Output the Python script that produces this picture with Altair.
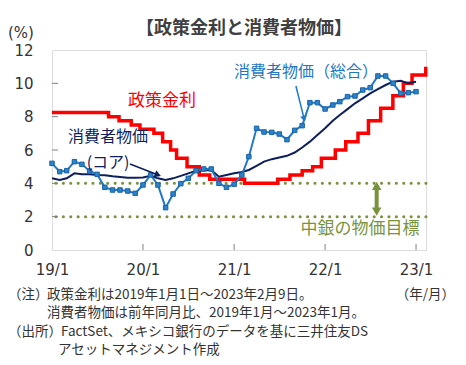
import altair as alt
import pandas as pd

# ---------------- data ----------------
months = pd.date_range("2019-01-01", "2023-01-01", freq="MS").strftime("%Y-%m-%d").tolist()

headline = [5.2, 4.7, 4.76, 5.3, 5.14, 4.74, 4.54, 3.76, 3.6, 3.6, 3.54, 3.4,
            3.9, 4.5, 3.9, 2.54, 3.36, 3.98, 4.3, 4.76, 4.86, 4.86, 4.0, 3.76,
            3.95, 4.5, 5.6, 7.3, 7.08, 7.06, 6.96, 6.62, 7.18, 7.46, 8.84, 8.84,
            8.46, 8.7, 8.9, 9.2, 9.24, 9.6, 9.74, 10.44, 10.44, 10.0, 9.4, 9.44, 9.5]

core = [4.3, 4.2, 4.3, 4.6, 4.55, 4.54, 4.5, 4.48, 4.42, 4.38, 4.33, 4.33,
        4.35, 4.45, 4.3, 4.2, 4.3, 4.45, 4.6, 4.76, 4.78, 4.8, 4.4, 4.5,
        4.6, 4.68, 4.8, 5.05, 5.3, 5.45, 5.55, 5.65, 5.85, 6.15, 6.5, 6.9,
        7.3, 7.75, 8.1, 8.45, 8.8, 9.1, 9.4, 9.65, 9.9, 10.1, 10.15, 10.0, 10.1]

policy_dates = ["2019-01-01", "2019-08-16", "2019-09-27", "2019-11-15", "2019-12-20",
                "2020-02-14", "2020-03-20", "2020-04-21", "2020-05-15", "2020-06-26",
                "2020-08-14", "2020-09-25", "2021-02-12", "2021-06-25", "2021-08-13",
                "2021-10-01", "2021-11-12", "2021-12-17", "2022-02-11", "2022-03-25",
                "2022-05-13", "2022-06-24", "2022-08-12", "2022-09-30", "2022-11-11",
                "2022-12-16", "2023-02-09"]
policy_rates = [8.25, 8.0, 7.75, 7.5, 7.25, 7.0, 6.5, 6.0, 5.5, 5.0, 4.5, 4.25, 4.0,
                4.25, 4.5, 4.75, 5.0, 5.5, 6.0, 6.5, 7.0, 7.75, 8.5, 9.25, 10.0, 10.5, 11.0]

target_band = [2, 4]
y_ticks = [0, 2, 4, 6, 8, 10, 12]
inner_y_ticks = [2, 4, 6, 8, 10]
x_tick_years = [2019, 2020, 2021, 2022, 2023]
inner_x_ticks = ["2020-01-01", "2021-01-01", "2022-01-01", "2023-01-01"]

title_text = "【政策金利と消費者物価】"
note_heads = ["（注）", "（出所）"]
notes = [
    "政策金利は2019年1月1日～2023年2月9日。",
    "消費者物価は前年同月比、2019年1月～2023年1月。",
    "FactSet、メキシコ銀行のデータを基に三井住友DS",
    "アセットマネジメント作成",
]

# ---------------- styling ----------------
JP = "Noto Sans CJK JP"
RED = "#ff0000"
BLUE = "#2378c3"
NAVY = "#0d1f5c"
GREEN = "#77933c"
TXT = "#333333"

df_cpi = pd.DataFrame({"date": months, "headline": headline, "core": core})
df_pol = pd.DataFrame({"date": policy_dates, "rate": policy_rates})

x_scale = alt.Scale(type="utc", domain=[alt.DateTime(year=2019, month=1, date=1, utc=True),
                                        alt.DateTime(year=2023, month=2, date=10, utc=True)])
y_scale = alt.Scale(domain=[0, 12], nice=False, zero=True)

x_axis = alt.Axis(values=[alt.DateTime(year=y, month=1, date=1, utc=True) for y in x_tick_years],
                  labelExpr="utcFormat(datum.value, '%y/%-m')", title=None, grid=False, ticks=False,
                  domain=False, labelFont="DejaVu Sans", labelFontSize=15, labelColor=TXT,
                  labelPadding=12, labelFlush=False, labelOverlap=False)
y_axis = alt.Axis(values=y_ticks, title=None, grid=False, ticks=False, domain=False,
                  labelFont="DejaVu Sans", labelFontSize=15, labelColor=TXT, labelPadding=19)


def X(field="date"):
    return alt.X(f"{field}:T", scale=x_scale, axis=x_axis, title=None)


def Y(field):
    return alt.Y(f"{field}:Q", scale=y_scale, axis=y_axis, title=None)


band = alt.Chart(pd.DataFrame({"v": target_band})).mark_rule(
    color=GREEN, strokeWidth=3, strokeDash=[0.1, 7.3], strokeCap="round"
).encode(y=Y("v"))

policy = alt.Chart(df_pol).mark_line(color=RED, strokeWidth=3.5, interpolate="step-after").encode(
    x=X(), y=Y("rate"))

core_line = alt.Chart(df_cpi).mark_line(color=NAVY, strokeWidth=2).encode(x=X(), y=Y("core"))

head_line = alt.Chart(df_cpi).mark_line(color=BLUE, strokeWidth=2).encode(x=X(), y=Y("headline"))
head_pts = alt.Chart(df_cpi).mark_point(shape="square", filled=True, size=20, color="#2d82c8",
                                        stroke="#1763a8", strokeWidth=1, opacity=1).encode(
    x=X(), y=Y("headline"))


def label(date, v, text, color, size):
    return alt.Chart(pd.DataFrame({"date": [date], "v": [v], "t": [text]})).mark_text(
        font=JP, fontSize=size, color=color, align="center", baseline="middle"
    ).encode(x=X(), y=Y("v"), text="t:N")


def arrow(d1, v1, d2, v2, color, angle, size=45, width=1.5):
    seg = alt.Chart(pd.DataFrame({"date": [d1], "date2": [d2], "v": [v1], "v2": [v2]})).mark_rule(
        color=color, strokeWidth=width
    ).encode(x=X(), x2="date2:T", y=Y("v"), y2="v2:Q")
    head = alt.Chart(pd.DataFrame({"date": [d2], "v": [v2]})).mark_point(
        shape="triangle", filled=True, color=color, size=size, angle=angle, opacity=1
    ).encode(x=X(), y=Y("v"))
    return seg + head


labels = (
    label("2020-03-17", 8.94, "政策金利", RED, 17)
    + label("2019-08-14", 6.78, "消費者物価", NAVY, 16)
    + label("2019-08-14", 5.22, "(コア)", NAVY, 16)
    + label("2021-10-16", 10.68, "消費者物価（総合）", BLUE, 16)
    + label("2022-05-21", 1.26, "中銀の物価目標", GREEN, 17)
)

arrows = (
    arrow("2019-11-10", 5.16, "2020-02-26", 4.53, NAVY, 112, size=55)
    + arrow("2021-09-06", 9.84, "2021-10-08", 7.92, BLUE, 167, size=45)
)

g_shaft = alt.Chart(pd.DataFrame({"date": ["2022-07-27"], "v": [2.3], "v2": [3.9]})).mark_rule(
    color=GREEN, strokeWidth=4).encode(x=X(), y=Y("v"), y2="v2:Q")
g_up = alt.Chart(pd.DataFrame({"date": ["2022-07-27"], "v": [3.85]})).mark_point(
    shape="triangle-up", filled=True, color=GREEN, size=90, opacity=1).encode(x=X(), y=Y("v"))
g_dn = alt.Chart(pd.DataFrame({"date": ["2022-07-27"], "v": [2.3]})).mark_point(
    shape="triangle-down", filled=True, color=GREEN, size=90, opacity=1).encode(x=X(), y=Y("v"))

yt = alt.Chart(pd.DataFrame({"v": inner_y_ticks})).mark_rule(color="#808080").encode(
    y=Y("v"), x=alt.value(0), x2=alt.value(6))
xt = alt.Chart(pd.DataFrame({"date": inner_x_ticks})).mark_rule(color="#808080").encode(
    x=X(), y=alt.value(194), y2=alt.value(200))


def ptext(text, px, py, size, color=TXT, align="left", weight="normal", font=JP):
    return alt.Chart(pd.DataFrame({"t": [text]})).mark_text(
        font=font, fontSize=size, color=color, align=align, baseline="middle", fontWeight=weight
    ).encode(text="t:N", x=alt.value(px), y=alt.value(py))


outer = (
    ptext(title_text, 192, -21, 18, color="#404040", align="center", weight="bold")
    + ptext("(%)", -44, -17, 15, font="DejaVu Sans")
    + ptext(note_heads[0], -44, 245, 13.5)
    + ptext(notes[0], -5, 245, 13.5)
    + ptext("（年/月）", 403, 245, 13.5, align="right")
    + ptext(notes[1], -5, 263, 13.5)
    + ptext(note_heads[1], -44, 282, 13.5)
    + ptext(notes[2], 9, 282, 13.5)
    + ptext(notes[3], 6, 300, 13.5)
)

chart = alt.layer(
    band, policy, core_line, head_line, head_pts, g_shaft, g_up, g_dn,
    arrows, labels, yt, xt, outer
).properties(
    width=374, height=200,
    padding={"left": 44, "top": 42, "right": 32, "bottom": 107},
    autosize="none",
).configure_view(stroke="#808080", strokeWidth=1).configure(background="white")

chart.save("out.html", embed_options={"renderer": "svg", "actions": False})
